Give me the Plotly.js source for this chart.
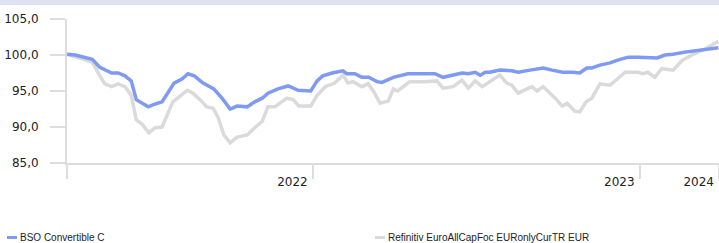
<!DOCTYPE html>
<html>
<head>
<meta charset="utf-8">
<script src="https://cdn.plot.ly/plotly-3.0.1.min.js"></script>
<style>html,body{margin:0;padding:0;background:#fff;}#chart{width:719px;height:243px;}</style>
</head>
<body>
<div id="chart"></div>
<script>
// x = period index (approx. weeks from start)
const bsoX = [0,1.3,4.0,5.2,7.1,8.1,9.2,10.2,11.0,12.9,14.0,15.1,17.0,18.3,19.2,20.2,21.6,23.3,24.6,25.9,27.0,28.6,29.8,31.0,31.9,33.5,35.1,36.7,38.7,39.7,40.6,42.1,43.8,44.4,45.7,46.8,47.9,49.2,50.0,51.8,54.1,56.4,58.4,59.7,61.3,62.7,63.7,64.8,65.6,66.4,67.1,68.7,70.6,71.6,73.5,75.6,77.0,78.7,80.2,81.4,82.5,83.3,84.6,86.2,87.8,89.1,90.6,92.1,93.7,94.9,96.2,98.1,100.2,103.4];
const bsoY = [100.1,100.0,99.4,98.3,97.5,97.5,97.1,96.4,93.8,92.8,93.2,93.5,96.1,96.7,97.4,97.1,96.1,95.3,94.0,92.5,92.9,92.8,93.5,94.0,94.7,95.3,95.7,95.1,95.0,96.4,97.1,97.5,97.8,97.4,97.4,96.9,96.9,96.3,96.2,96.9,97.4,97.4,97.4,96.9,97.2,97.5,97.4,97.6,97.2,97.6,97.6,97.9,97.8,97.6,97.9,98.2,97.9,97.6,97.6,97.5,98.2,98.2,98.6,98.9,99.4,99.7,99.7,99.7,99.6,100.0,100.1,100.4,100.6,101.0];
const refX = [0,4.0,4.9,6.0,7.1,8.1,9.2,10.2,11.0,11.9,13.0,14.0,15.1,15.9,16.8,19.1,20.0,21.1,22.2,23.2,24.0,24.9,25.9,27.0,28.6,29.8,31.0,31.9,33.0,34.9,35.9,36.8,38.7,39.7,41.0,42.5,43.8,44.6,45.4,46.8,47.8,48.7,49.7,51.0,51.8,52.5,54.4,56.8,58.7,59.7,61.3,62.7,63.7,64.8,65.9,66.8,68.7,69.8,70.6,71.6,73.8,74.6,75.6,77.5,78.6,79.4,80.6,81.4,82.4,83.3,84.6,86.2,87.3,88.6,90.6,91.4,92.2,93.3,94.4,96.2,97.6,99.4,101.0,102.4,103.4];
const refY = [100.1,99.0,97.6,96.0,95.6,96.0,95.6,94.4,91.0,90.4,89.2,89.9,90.0,91.7,93.5,95.1,94.7,93.8,92.8,92.6,91.3,88.9,87.8,88.6,88.9,89.9,90.8,92.8,92.8,94.0,93.8,92.9,92.9,94.4,95.6,96.1,97.2,96.1,96.3,95.6,96.0,94.9,93.3,93.6,95.3,95.0,96.3,96.3,96.4,95.4,95.6,96.5,95.4,96.4,95.6,96.1,97.2,96.1,95.8,94.7,95.6,95.0,95.6,94.0,92.9,93.3,92.2,92.1,93.5,94.0,96.0,95.8,96.7,97.6,97.6,97.4,97.6,96.9,98.1,97.9,99.2,100.1,100.7,101.4,101.9];
const tickPos = [0, 39.0, 90.9, 103.5];
const tickText = ['', '2022', '2023', '2024'];
const seriesNames = ['BSO Convertible C', 'Refinitiv EuroAllCapFoc EURonlyCurTR EUR'];
const colors = ['#7f9af3', '#dadada'];

const traces = [
  {x: refX, y: refY, type: 'scatter', mode: 'lines', name: seriesNames[1],
   line: {color: colors[1], width: 3.5}, hoverinfo: 'skip'},
  {x: bsoX, y: bsoY, type: 'scatter', mode: 'lines', name: seriesNames[0],
   line: {color: colors[0], width: 3.5}, hoverinfo: 'skip'}
];

const layout = {
  width: 719, height: 243,
  margin: {l: 67, r: 0, t: 19, b: 80},
  paper_bgcolor: '#ffffff', plot_bgcolor: '#ffffff',
  showlegend: false,
  separators: ',.',
  font: {family: 'DejaVu Sans, Verdana, sans-serif', size: 12, color: '#222'},
  xaxis: {
    range: [0, 103.5], showgrid: false, zeroline: false,
    showline: true, linecolor: '#dddddd', linewidth: 2,
    tickmode: 'array', tickvals: tickPos, ticktext: tickText,
    ticks: 'outside', ticklen: 14, tickcolor: '#dddddd', tickwidth: 2,
    ticklabelposition: 'outside left',
    ticklabelstandoff: 7,
    ticklabelshift: -3,
    tickfont: {family: 'DejaVu Sans, Verdana, sans-serif', size: 12, color: '#222'}
  },
  yaxis: {
    range: [85, 105], showgrid: false, zeroline: false,
    showline: true, linecolor: '#dddddd', linewidth: 2,
    tickvals: [85, 90, 95, 100, 105], tickformat: '.1f',
    ticks: 'outside', ticklen: 15, tickcolor: '#dddddd', tickwidth: 2,
    ticklabelstandoff: 9,
    tickfont: {family: 'DejaVu Sans, Verdana, sans-serif', size: 12, color: '#222'}
  },
  shapes: [
    {type: 'rect', xref: 'paper', yref: 'paper', x0: -0.11, x1: 1.01,
     y0: 1 + 14/144, y1: 1 + 20/144, fillcolor: '#dde1f0', line: {width: 0}, layer: 'below'},
    {type: 'rect', xref: 'paper', yref: 'paper', x0: (7-67)/652, x1: (17-67)/652,
     y0: (163-236)/144, y1: (163-239)/144, fillcolor: colors[0], line: {width: 0}},
    {type: 'rect', xref: 'paper', yref: 'paper', x0: (375-67)/652, x1: (385-67)/652,
     y0: (163-236)/144, y1: (163-239)/144, fillcolor: colors[1], line: {width: 0}}
  ],
  annotations: [
    {xref: 'paper', yref: 'paper', x: (18-67)/652, y: (163-237.5)/144, xanchor: 'left', yanchor: 'middle',
     text: seriesNames[0], showarrow: false, font: {family: 'Liberation Sans, Arial, sans-serif', size: 10, color: '#222'}},
    {xref: 'paper', yref: 'paper', x: (386-67)/652, y: (163-237.5)/144, xanchor: 'left', yanchor: 'middle',
     text: seriesNames[1], showarrow: false, font: {family: 'Liberation Sans, Arial, sans-serif', size: 10, color: '#222'}}
  ]
};

Plotly.newPlot('chart', traces, layout, {staticPlot: true, displayModeBar: false});
</script>
</body>
</html>
